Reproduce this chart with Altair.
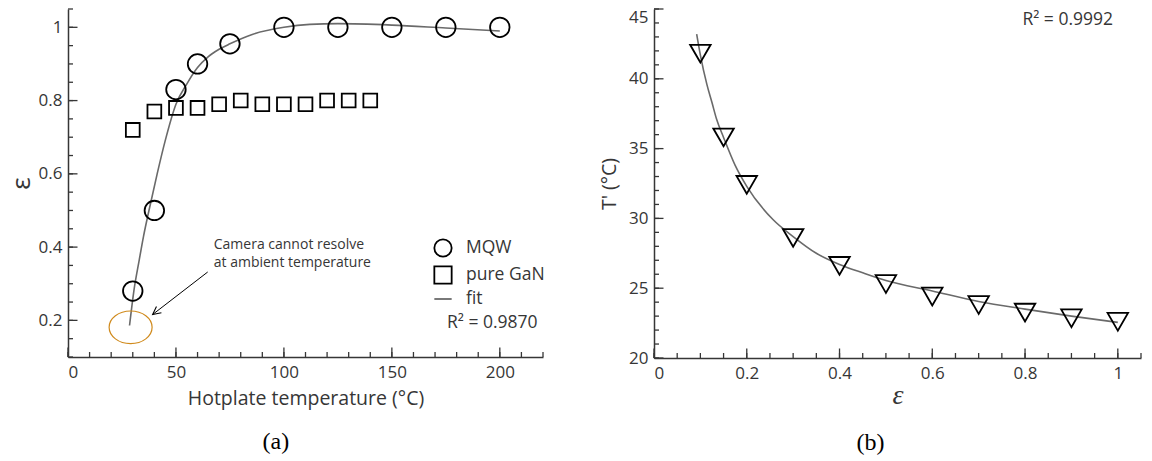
import altair as alt
import pandas as pd

# ---------------- panel (a) data ----------------
mqw_temp = [30, 40, 50, 60, 75, 100, 125, 150, 175, 200]
mqw_eps = [0.28, 0.50, 0.83, 0.90, 0.955, 1.0, 1.0, 1.0, 1.0, 1.0]
gan_temp = [30, 40, 50, 60, 70, 80, 90, 100, 110, 120, 130, 140]
gan_eps = [0.72, 0.77, 0.78, 0.78, 0.79, 0.80, 0.79, 0.79, 0.79, 0.80, 0.80, 0.80]
fit_a_temp = [28.5, 30.5, 33, 35, 37.5, 41.3, 45, 50, 55, 60, 65, 70, 75, 85, 100, 112, 125, 150, 175, 200]
fit_a_eps = [0.186, 0.28, 0.365, 0.43, 0.50, 0.60, 0.69, 0.79, 0.845, 0.89, 0.92, 0.94, 0.955, 0.98,
             1.0, 1.008, 1.01, 1.006, 0.998, 0.99]
series_names = ["MQW", "pure GaN", "fit"]

xa_major = [0, 50, 100, 150, 200]
xa_minor = [0, 10, 20, 30, 40, 50, 60, 70, 80, 90, 100, 110, 120, 130, 140, 150, 160, 170, 180, 190, 200, 210, 220]
ya_major = [0.2, 0.4, 0.6, 0.8, 1.0]
ya_minor = [0.1, 0.15, 0.2, 0.25, 0.3, 0.35, 0.4, 0.45, 0.5, 0.55, 0.6, 0.65, 0.7, 0.75, 0.8, 0.85, 0.9,
            0.95, 1.0, 1.05]

# ---------------- panel (b) data ----------------
tri_eps = [0.1, 0.15, 0.2, 0.3, 0.4, 0.5, 0.6, 0.7, 0.8, 0.9, 1.0]
tri_temp = [41.8, 35.8, 32.4, 28.6, 26.6, 25.3, 24.4, 23.8, 23.25, 22.85, 22.6]
fit_b_eps = [0.092, 0.10, 0.114, 0.125, 0.135, 0.15, 0.175, 0.2, 0.257, 0.3, 0.35, 0.4, 0.45, 0.5, 0.6,
             0.7, 0.8, 0.9, 1.0]
fit_b_temp = [43.2, 41.7, 39.6, 38.3, 37.1, 35.8, 33.8, 32.3, 29.9, 28.7, 27.5, 26.7, 26.1, 25.55, 24.8,
              24.05, 23.5, 23.0, 22.55]

xb_major = [0, 0.2, 0.4, 0.6, 0.8, 1.0]
xb_minor = [0, 0.05, 0.1, 0.15, 0.2, 0.25, 0.3, 0.35, 0.4, 0.45, 0.5, 0.55, 0.6, 0.65, 0.7, 0.75, 0.8,
            0.85, 0.9, 0.95, 1.0, 1.05]
yb_major = [20, 25, 30, 35, 40, 45]
yb_minor = [20, 21, 22, 23, 24, 25, 26, 27, 28, 29, 30, 31, 32, 33, 34, 35, 36, 37, 38, 39, 40, 41, 42,
            43, 44, 45]

# annotations (a)
note_a = pd.DataFrame({"x": [67.5, 67.5], "y": [0.405, 0.356],
                       "t": ["Camera cannot resolve", "at ambient temperature"]})
arrow_a = pd.DataFrame({"x": [64.7], "y": [0.332], "x2": [39.2], "y2": [0.216]})
ellipse_a = pd.DataFrame({"x": [29.0], "y": [0.181]})
r2_a = pd.DataFrame({"x": [196.5], "y": [0.193], "t": ["R\u00b2 = 0.9870"]})
r2_b = pd.DataFrame({"x": [0.892], "y": [44.2], "t": ["R\u00b2 = 0.9992"]})

AX = "#363636"
FONT = "Open Sans"
W1, H1 = 475, 348
W2, H2 = 487, 349
MAJ, MIN = 9.5, 5

# ---------------- panel (a) ----------------
xa_scale = alt.Scale(domain=[0, 220], nice=False, zero=False)
ya_scale = alt.Scale(domain=[0.1, 1.05], nice=False, zero=False)
xa_axis = alt.Axis(values=xa_major, format="d", title="Hotplate temperature (\u00b0C)",
                   labelPadding=7, titlePadding=9)
ya_axis = alt.Axis(values=ya_major, format="~r", title="\u03b5", titleFontSize=26,
                   labelPadding=6, titlePadding=4)


def XA(f):
    return alt.X(f, type="quantitative", scale=xa_scale, axis=xa_axis)


def YA(f):
    return alt.Y(f, type="quantitative", scale=ya_scale, axis=ya_axis)


fit_a = alt.Chart(pd.DataFrame({"x": fit_a_temp, "y": fit_a_eps})).mark_line(
    color="#6a6a6a", strokeWidth=1.6, interpolate="monotone").encode(x=XA("x"), y=YA("y"))

pts_a_df = pd.DataFrame({"x": mqw_temp + gan_temp, "y": mqw_eps + gan_eps,
                         "series": ["MQW"] * len(mqw_temp) + ["pure GaN"] * len(gan_temp),
                         "sz": [380] * len(mqw_temp) + [190] * len(gan_temp)})
leg = alt.Legend(
    orient="none", legendX=365, legendY=229, title=None, labelFont=FONT,
    labelFontSize=17.5, labelColor=AX, symbolStrokeWidth=1.8, labelOffset=13,
    rowPadding=1, padding=0, symbolSize=300,
)
pts_a = alt.Chart(pts_a_df).mark_point(filled=False, strokeWidth=1.8, opacity=1).encode(
    x=XA("x"), y=YA("y"),
    shape=alt.Shape("series:N", scale=alt.Scale(domain=series_names, range=["circle", "square", "stroke"]),
                    legend=leg),
    stroke=alt.Stroke("series:N", scale=alt.Scale(domain=series_names, range=["black", "black", "#6a6a6a"]),
                      legend=leg),
    size=alt.Size("sz:Q", scale=None, legend=None),
)

tx_maj_a = alt.Chart(pd.DataFrame({"x": xa_major})).mark_rule(color=AX, strokeWidth=1.3).encode(
    x=XA("x"), y=alt.value(H1), y2=alt.value(H1 - MAJ))
tx_min_a = alt.Chart(pd.DataFrame({"x": xa_minor})).mark_rule(color=AX, strokeWidth=1.3).encode(
    x=XA("x"), y=alt.value(H1), y2=alt.value(H1 - MIN))
ty_maj_a = alt.Chart(pd.DataFrame({"y": ya_major})).mark_rule(color=AX, strokeWidth=1.3).encode(
    y=YA("y"), x=alt.value(0), x2=alt.value(MAJ))
ty_min_a = alt.Chart(pd.DataFrame({"y": ya_minor})).mark_rule(color=AX, strokeWidth=1.3).encode(
    y=YA("y"), x=alt.value(0), x2=alt.value(MIN))

note = alt.Chart(note_a).mark_text(align="left", baseline="middle", font=FONT, fontSize=14,
                                   color=AX).encode(x=XA("x"), y=YA("y"), text="t:N")
arrow_line = alt.Chart(arrow_a).mark_rule(color="black", strokeWidth=1).encode(
    x=XA("x"), y=YA("y"), x2="x2:Q", y2="y2:Q")
arrow_head = alt.Chart(arrow_a).mark_point(shape="M-0.5,1L0,0L0.5,1", size=256, filled=False,
                                           strokeWidth=1.1, color="black", opacity=1,
                                           angle=232).encode(x=XA("x2"), y=YA("y2"))
ellipse = alt.Chart(ellipse_a).mark_point(
    shape="M-1,0A1,0.76,0,1,0,1,0A1,0.76,0,1,0,-1,0Z", size=1849, filled=False, strokeWidth=1.2,
    color="#d08a1c", opacity=1).encode(x=XA("x"), y=YA("y"))
r2a = alt.Chart(r2_a).mark_text(align="center", baseline="middle", font=FONT, fontSize=17.5,
                                color=AX).encode(x=XA("x"), y=YA("y"), text="t:N")

panel_a = alt.layer(tx_min_a, tx_maj_a, ty_min_a, ty_maj_a, fit_a, pts_a, note, arrow_line, arrow_head,
                    ellipse, r2a).properties(
    width=W1, height=H1,
    title=alt.Title("(a)", orient="bottom", anchor="middle", frame="bounds", font="Liberation Serif",
                    fontSize=24, fontWeight="normal", color="black", offset=22))

# ---------------- panel (b) ----------------
xb_scale = alt.Scale(domain=[0, 1.05], nice=False, zero=False)
yb_scale = alt.Scale(domain=[20, 45], nice=False, zero=False)
xb_axis = alt.Axis(values=xb_major, format="~r", title="\u03b5", titleFont="Liberation Serif",
                   titleFontStyle="italic", titleFontSize=28, labelPadding=7, titlePadding=0)
yb_axis = alt.Axis(values=yb_major, format="d", title="T' (\u00b0C)", labelPadding=6, titlePadding=9,
                   labelBaseline={"condition": {"test": "datum.value >= 45", "value": "top"},
                                  "value": "middle"})


def XB(f):
    return alt.X(f, type="quantitative", scale=xb_scale, axis=xb_axis)


def YB(f):
    return alt.Y(f, type="quantitative", scale=yb_scale, axis=yb_axis)


fit_b = alt.Chart(pd.DataFrame({"x": fit_b_eps, "y": fit_b_temp})).mark_line(
    color="#6a6a6a", strokeWidth=1.6, interpolate="monotone").encode(x=XB("x"), y=YB("y"))
pts_b = alt.Chart(pd.DataFrame({"x": tri_eps, "y": tri_temp})).mark_point(
    shape="triangle-down", size=420, filled=False, strokeWidth=1.8, color="black", opacity=1).encode(
    x=XB("x"), y=YB("y"))
tx_maj_b = alt.Chart(pd.DataFrame({"x": xb_major})).mark_rule(color=AX, strokeWidth=1.3).encode(
    x=XB("x"), y=alt.value(H2), y2=alt.value(H2 - MAJ))
tx_min_b = alt.Chart(pd.DataFrame({"x": xb_minor})).mark_rule(color=AX, strokeWidth=1.3).encode(
    x=XB("x"), y=alt.value(H2), y2=alt.value(H2 - MIN))
ty_maj_b = alt.Chart(pd.DataFrame({"y": yb_major})).mark_rule(color=AX, strokeWidth=1.3).encode(
    y=YB("y"), x=alt.value(0), x2=alt.value(MAJ))
ty_min_b = alt.Chart(pd.DataFrame({"y": yb_minor})).mark_rule(color=AX, strokeWidth=1.3).encode(
    y=YB("y"), x=alt.value(0), x2=alt.value(MIN))
r2b = alt.Chart(r2_b).mark_text(align="center", baseline="middle", font=FONT, fontSize=17.5,
                                color=AX).encode(x=XB("x"), y=YB("y"), text="t:N")

panel_b = alt.layer(tx_min_b, tx_maj_b, ty_min_b, ty_maj_b, fit_b, pts_b, r2b).properties(
    width=W2, height=H2,
    title=alt.Title("(b)", orient="bottom", anchor="middle", frame="bounds", font="Liberation Serif",
                    fontSize=24, fontWeight="normal", color="black", offset=22))

chart = alt.hconcat(panel_a, panel_b, spacing=55).properties(
    padding={"left": 0, "top": 0, "right": 0, "bottom": 0}
).configure_view(stroke=None).configure_axis(
    grid=False, ticks=False, tickSize=0, domainColor=AX, domainWidth=1.5,
    labelFont=FONT, labelFontSize=17, labelColor=AX,
    titleFont=FONT, titleFontSize=19.5, titleFontWeight="normal", titleColor=AX,
)

chart.save("out.html", embed_options={"renderer": "svg", "actions": False})
